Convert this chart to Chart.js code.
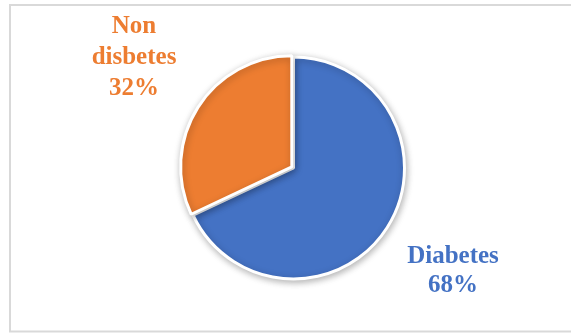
<!DOCTYPE html>
<html>
<head>
<meta charset="utf-8">
<script src="https://cdn.jsdelivr.net/npm/chart.js@4"></script>
<style>
  html, body { margin: 0; padding: 0; background: #ffffff; }
  #wrap { width: 571px; height: 333px; position: relative; }
</style>
</head>
<body>
<div id="wrap"><canvas id="c" width="571" height="333"></canvas></div>
<script>
const categories = ["Diabetes", "Non disbetes"];
const values = [68, 32];
const labelLines = [["Diabetes", "68%"], ["Non", "disbetes", "32%"]];
const colors = ["#4472C4", "#ED7D31"];

const framePlugin = {
  id: 'frame',
  beforeDraw(chart) {
    const ctx = chart.ctx;
    ctx.save();
    ctx.fillStyle = '#ffffff';
    ctx.fillRect(0, 0, chart.width, chart.height);
    ctx.strokeStyle = '#d9d9d9';
    ctx.lineWidth = 2;
    ctx.strokeRect(10, 5, 600, 326.5);
    ctx.restore();
  }
};

const shadowPlugin = {
  id: 'shadow',
  beforeDatasetsDraw(chart) {
    const ctx = chart.ctx;
    ctx.save();
    ctx.shadowColor = 'rgba(0,0,0,0.28)';
    ctx.shadowBlur = 7;
    ctx.shadowOffsetX = 1;
    ctx.shadowOffsetY = 2;
  },
  afterDatasetsDraw(chart) {
    chart.ctx.restore();
  }
};

const labelPlugin = {
  id: 'sliceLabels',
  afterDatasetsDraw(chart) {
    const ctx = chart.ctx;
    const meta = chart.getDatasetMeta(0);
    const anchors = [{x: 453, y: 263, lh: 29}, {x: 134, y: 33, lh: 31}];
    ctx.save();
    ctx.font = 'bold 25px "Liberation Serif", "Times New Roman", serif';
    ctx.textAlign = 'center';
    ctx.textBaseline = 'alphabetic';
    meta.data.forEach((arc, i) => {
      ctx.fillStyle = colors[i];
      const a = anchors[i];
      labelLines[i].forEach((t, k) => {
        ctx.fillText(t, a.x, a.y + k * a.lh);
      });
    });
    ctx.restore();
  }
};

new Chart(document.getElementById('c'), {
  type: 'pie',
  data: {
    labels: categories,
    datasets: [{
      data: values,
      backgroundColor: colors,
      borderColor: '#ffffff',
      borderWidth: 3,
      offset: [0, 8]
    }]
  },
  options: {
    responsive: false,
    animation: false,
    radius: 111,
    layout: { padding: { left: 16, right: 0, top: 3, bottom: 0 } },
    plugins: {
      legend: { display: false },
      tooltip: { enabled: false }
    }
  },
  plugins: [framePlugin, shadowPlugin, labelPlugin]
});
</script>
</body>
</html>
